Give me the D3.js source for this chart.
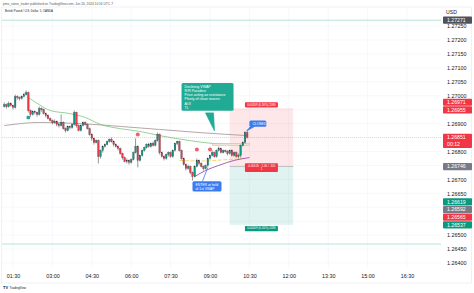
<!DOCTYPE html>
<html lang="en">
<head>
<meta charset="UTF-8">
<title>GBPUSD 5 OANDA</title>
<style>
  html, body { margin: 0; padding: 0; background: #fff; }
  svg { display: block; font-family: "Liberation Sans", Arial, sans-serif; }
  .axis path, .axis line { display: none; }
  .axis text { fill: #131722; font-size: 5.4px; }
</style>
</head>
<body>
<svg id="chart" width="474" height="293"></svg>
<script src="https://d3js.org/d3.v7.min.js"></script>
<script>
// ---- data ----
const startTime = "01:10";           // first 5 min bar
const barMinutes = 5;
// [open, high, low, close]
const candles = [
  [1.26961,1.26976,1.26958,1.26968],[1.26968,1.26972,1.26954,1.26961],[1.26961,1.26979,1.26958,1.26972],
  [1.26972,1.26976,1.26961,1.26965],[1.26965,1.26968,1.26951,1.26958],[1.26958,1.27004,1.26954,1.26997],
  [1.26997,1.27001,1.26986,1.26994],[1.26994,1.26997,1.26983,1.26990],[1.26990,1.27001,1.26986,1.26997],
  [1.26997,1.27011,1.26994,1.27004],[1.27004,1.27019,1.27001,1.27011],[1.27011,1.27015,1.26940,1.26947],
  [1.26947,1.26951,1.26925,1.26933],[1.26933,1.26947,1.26929,1.26943],[1.26943,1.26947,1.26933,1.26940],
  [1.26940,1.26943,1.26925,1.26933],[1.26933,1.26961,1.26929,1.26954],[1.26954,1.26958,1.26943,1.26951],
  [1.26951,1.26954,1.26933,1.26936],[1.26936,1.26940,1.26922,1.26929],[1.26929,1.26933,1.26915,1.26918],
  [1.26918,1.26922,1.26908,1.26911],[1.26911,1.26915,1.26897,1.26904],[1.26904,1.26915,1.26900,1.26908],
  [1.26908,1.26911,1.26890,1.26897],[1.26897,1.26904,1.26886,1.26893],[1.26893,1.26933,1.26890,1.26904],
  [1.26904,1.26908,1.26879,1.26882],[1.26882,1.26886,1.26868,1.26875],[1.26875,1.26893,1.26872,1.26890],
  [1.26890,1.26893,1.26879,1.26886],[1.26886,1.26900,1.26882,1.26897],[1.26897,1.26947,1.26893,1.26940],
  [1.26940,1.26943,1.26886,1.26893],[1.26893,1.26897,1.26872,1.26875],[1.26875,1.26897,1.26872,1.26893],
  [1.26893,1.26908,1.26890,1.26904],[1.26904,1.26908,1.26893,1.26897],[1.26897,1.26900,1.26879,1.26882],
  [1.26882,1.26886,1.26857,1.26861],[1.26861,1.26865,1.26839,1.26847],[1.26847,1.26850,1.26825,1.26832],
  [1.26832,1.26843,1.26829,1.26839],[1.26839,1.26843,1.26757,1.26782],[1.26782,1.26807,1.26775,1.26804],
  [1.26804,1.26822,1.26796,1.26818],[1.26818,1.26829,1.26814,1.26825],[1.26825,1.26839,1.26822,1.26836],
  [1.26836,1.26847,1.26832,1.26843],[1.26843,1.26850,1.26832,1.26836],[1.26836,1.26839,1.26818,1.26825],
  [1.26825,1.26829,1.26814,1.26818],[1.26818,1.26822,1.26804,1.26811],[1.26811,1.26814,1.26789,1.26793],
  [1.26793,1.26796,1.26771,1.26778],[1.26778,1.26782,1.26761,1.26764],[1.26764,1.26775,1.26757,1.26768],
  [1.26768,1.26771,1.26753,1.26761],[1.26761,1.26775,1.26757,1.26771],[1.26771,1.26800,1.26768,1.26796],
  [1.26796,1.26847,1.26793,1.26818],[1.26818,1.26822,1.26743,1.26768],[1.26768,1.26789,1.26764,1.26786],
  [1.26786,1.26807,1.26782,1.26804],[1.26804,1.26818,1.26800,1.26814],[1.26814,1.26829,1.26811,1.26825],
  [1.26825,1.26832,1.26814,1.26818],[1.26818,1.26832,1.26814,1.26829],[1.26829,1.26836,1.26818,1.26822],
  [1.26822,1.26843,1.26818,1.26839],[1.26839,1.26868,1.26836,1.26861],[1.26861,1.26865,1.26789,1.26796],
  [1.26796,1.26800,1.26778,1.26782],[1.26782,1.26786,1.26768,1.26775],[1.26775,1.26793,1.26771,1.26789],
  [1.26789,1.26800,1.26782,1.26796],[1.26796,1.26800,1.26778,1.26782],[1.26782,1.26807,1.26778,1.26804],
  [1.26804,1.26832,1.26800,1.26829],[1.26829,1.26839,1.26822,1.26836],[1.26836,1.26839,1.26800,1.26804],
  [1.26804,1.26807,1.26771,1.26775],[1.26775,1.26778,1.26750,1.26753],[1.26753,1.26757,1.26732,1.26739],
  [1.26739,1.26753,1.26735,1.26746],[1.26746,1.26750,1.26718,1.26725],[1.26725,1.26728,1.26696,1.26710],
  [1.26710,1.26750,1.26707,1.26746],[1.26746,1.26775,1.26743,1.26768],[1.26768,1.26771,1.26750,1.26757],
  [1.26757,1.26761,1.26743,1.26746],[1.26746,1.26750,1.26732,1.26739],[1.26739,1.26753,1.26735,1.26750],
  [1.26750,1.26778,1.26746,1.26775],[1.26775,1.26789,1.26771,1.26786],[1.26786,1.26804,1.26782,1.26796],
  [1.26796,1.26800,1.26778,1.26782],[1.26782,1.26807,1.26778,1.26804],[1.26804,1.26818,1.26800,1.26811],
  [1.26811,1.26814,1.26793,1.26796],[1.26796,1.26807,1.26793,1.26804],[1.26804,1.26807,1.26796,1.26800],
  [1.26800,1.26804,1.26786,1.26793],[1.26793,1.26807,1.26789,1.26804],[1.26804,1.26807,1.26782,1.26786],
  [1.26786,1.26800,1.26782,1.26796],[1.26796,1.26800,1.26778,1.26782],[1.26782,1.26793,1.26775,1.26786],
  [1.26786,1.26825,1.26778,1.26822],[1.26822,1.26836,1.26818,1.26832],[1.26832,1.26872,1.26829,1.26868],
  [1.26868,1.26879,1.26847,1.26851]
];

const timeTicks = ["01:30","03:00","04:30","06:00","07:30","09:00","10:30","12:00","13:30","15:00","16:30"];
const priceTicks = [1.2725,1.2720,1.2715,1.2710,1.2705,1.2700,1.2695,1.2690,1.2685,1.2680,1.2675,
                    1.2670,1.2665,1.2660,1.2655,1.2650,1.2645,1.2640];

// indicator lines [time, price]
const slowLine = [["01:10",1.26893],["02:30",1.26904],["04:05",1.26900],["05:35",1.26890],
                  ["07:05",1.26879],["08:35",1.26868],["10:25",1.26857]];
const emaLine = [["02:05",1.26994],["02:30",1.26968],["02:55",1.26947],["03:40",1.26936],
                 ["04:15",1.26922],["04:50",1.26897],["05:35",1.26882],["06:20",1.26872],
                 ["07:05",1.26857],["08:15",1.26839],["09:05",1.26829],["10:10",1.26825]];
const vwapLine = [["08:25",1.26710],["08:50",1.26732],["09:20",1.26750],["09:55",1.26768],["10:30",1.26778]];
const yellowLine = [["07:50",1.26768],["08:40",1.26766],["09:30",1.26770],["10:20",1.26775]];
const band = { from: "09:05", to: "10:30", top: 1.26829, bottom: 1.26822 };

const topLevel = 1.27271, bottomLevel = 1.26468, lastPrice = 1.26851;

// short position tool
const position = { from: "09:45", to: "12:10", entry: 1.26746, stop: 1.26955, target: 1.26537 };

const greenMarks = [["02:05",1.26922]];
const redMarks = [["06:15",1.26861],["08:30",1.26807],["09:00",1.26807]];

const badges = [
  { v: 1.27271, c: "#50535e" },
  { v: 1.26971, c: "#f23645" },
  { v: 1.26955, c: "#f23645" },
  { v: 1.26851, c: "#f23645", sub: "00:12" },
  { v: 1.26746, c: "#787b86" },
  { v: 1.26619, c: "#089981" },
  { v: 1.26592, c: "#787b86" },
  { v: 1.26565, c: "#f23645" },
  { v: 1.26537, c: "#089981" }
];

const noteLines = ["Declining VWAP", "R/R Paradise", "Price acting as resistance", "Plenty of clean moves", "AOI", "TL"];
const enterLines = ["ENTER at hold", "of 1st VWAP"];

// ---- scales ----
const svg = d3.select("#chart");
const plotRight = 441, plotTop = 7, plotBottom = 269;
const mins = t => { const p = t.split(":"); return +p[0] * 60 + +p[1]; };
const x = d3.scaleLinear().domain([90, 990]).range([13, 407]);
const y = d3.scaleLinear().domain([1.264, 1.272]).range([263, 40]);
const green = "#089981", red = "#f23645";

// header
svg.append("text").attr("x", 3).attr("y", 5).attr("font-size", 3.3).attr("fill", "#555")
  .attr("textLength", 110).attr("lengthAdjust", "spacingAndGlyphs")
  .text("pmo_stone_trader published on TradingView.com, Jun 20, 2024 10:16 UTC-7");

// frame
svg.append("rect").attr("x", 1.5).attr("y", plotTop).attr("width", 470).attr("height", 276)
  .attr("fill", "none").attr("stroke", "#e0e3eb").attr("stroke-width", 0.5);

// grid
const grid = svg.append("g").attr("stroke", "#f0f3fa").attr("stroke-width", 0.6);
grid.selectAll(".h").data(priceTicks).join("line")
  .attr("x1", 2).attr("x2", plotRight).attr("y1", d => y(d)).attr("y2", d => y(d));
grid.selectAll(".v").data(timeTicks).join("line")
  .attr("x1", d => x(mins(d))).attr("x2", d => x(mins(d))).attr("y1", plotTop).attr("y2", plotBottom);

svg.append("text").attr("x", 5).attr("y", 12).attr("font-size", 3.2).attr("fill", "#131722")
  .attr("textLength", 48).attr("lengthAdjust", "spacingAndGlyphs")
  .text("British Pound / U.S. Dollar, 5, OANDA");

// position zones
const px0 = x(mins(position.from)), px1 = x(mins(position.to));
svg.append("rect").attr("x", px0).attr("width", px1 - px0)
  .attr("y", y(position.stop)).attr("height", y(position.entry) - y(position.stop))
  .attr("fill", "rgba(242,54,69,0.12)");
svg.append("rect").attr("x", px0).attr("width", px1 - px0)
  .attr("y", y(position.entry)).attr("height", y(position.target) - y(position.entry))
  .attr("fill", "rgba(8,153,129,0.12)");
svg.append("line").attr("x1", px0).attr("x2", px1).attr("y1", y(position.entry)).attr("y2", y(position.entry))
  .attr("stroke", "#b2b5be").attr("stroke-width", 0.8);

// horizontal levels
[topLevel, bottomLevel].forEach(v => {
  svg.append("line").attr("x1", 2).attr("x2", plotRight).attr("y1", y(v)).attr("y2", y(v))
    .attr("stroke", "#a8dccf").attr("stroke-width", 0.8);
});
svg.append("line").attr("x1", 2).attr("x2", plotRight).attr("y1", y(lastPrice)).attr("y2", y(lastPrice))
  .attr("stroke", red).attr("stroke-width", 0.5).attr("stroke-dasharray", "1,1").attr("opacity", 0.5);

// indicators
const line = d3.line().x(d => x(mins(d[0]))).y(d => y(d[1])).curve(d3.curveMonotoneX);
svg.append("path").attr("d", line(slowLine)).attr("fill", "none").attr("stroke", "#a3918f").attr("stroke-width", 0.8);
svg.append("path").attr("d", line(emaLine)).attr("fill", "none").attr("stroke", "#6abf69").attr("stroke-width", 0.7);
svg.append("path").attr("d", line(yellowLine)).attr("fill", "none").attr("stroke", "#f7c948")
  .attr("stroke-width", 0.8).attr("stroke-dasharray", "4,1.5");
svg.append("path").attr("d", line(vwapLine)).attr("fill", "none").attr("stroke", "#9c4fb0").attr("stroke-width", 0.9);
svg.append("rect").attr("x", x(mins(band.from))).attr("width", x(mins(band.to)) - x(mins(band.from)))
  .attr("y", y(band.top)).attr("height", y(band.bottom) - y(band.top))
  .attr("fill", "#f1e2d6").attr("stroke", "#cfa58c").attr("stroke-width", 0.4);

// candles (dark wicks, as on the chart)
const t0 = mins(startTime);
const cg = svg.append("g");
const bars = cg.selectAll("g").data(candles).join("g");
bars.append("line")
  .attr("x1", (d, i) => x(t0 + i * barMinutes)).attr("x2", (d, i) => x(t0 + i * barMinutes))
  .attr("y1", d => y(d[1])).attr("y2", d => y(d[2]))
  .attr("stroke", "#2a2e39").attr("stroke-width", 0.5);
bars.append("rect")
  .attr("x", (d, i) => x(t0 + i * barMinutes) - 0.8).attr("width", 1.6)
  .attr("y", d => y(Math.max(d[0], d[3])))
  .attr("height", d => Math.max(0.5, Math.abs(y(d[0]) - y(d[3]))))
  .attr("fill", d => d[3] >= d[0] ? green : red)
  .attr("stroke", "#2a2e39").attr("stroke-width", 0.25);

// markers
svg.selectAll(".gm").data(greenMarks).join("rect")
  .attr("x", d => x(mins(d[0])) - 1.8).attr("y", d => y(d[1]) - 1.8).attr("width", 3.6).attr("height", 3.6)
  .attr("rx", 1).attr("fill", "#26a69a");
svg.selectAll(".rm").data(redMarks).join("circle")
  .attr("cx", d => x(mins(d[0]))).attr("cy", d => y(d[1])).attr("r", 2).attr("fill", "#f0606a");

// position labels
function tag(cx, cy, lines, color) {
  const w = 33, h = lines.length * 3.6 + 1.6;
  const g = svg.append("g");
  g.append("rect").attr("x", cx - w / 2).attr("y", cy - h / 2).attr("width", w).attr("height", h)
    .attr("rx", 0.8).attr("fill", color);
  lines.forEach((t, i) => g.append("text").attr("x", cx).attr("y", cy - h / 2 + 3.4 + i * 3.6)
    .attr("text-anchor", "middle").attr("font-size", 2.9).attr("fill", "#fff").text(t));
}
const pcx = (px0 + px1) / 2;
tag(pcx, y(position.stop) - 3.5, ["0.00209 (0.16%) 2090"], red);
tag(pcx, y(position.entry) + 1, ["-0.00105 · 1.00 / -105", "1"], red);
tag(pcx, y(position.target) + 3.8, ["0.00209 (0.16%) 2090"], green);

// callouts
function callout(bx, by, w, lines, color, tail, fs) {
  const h = lines.length * (fs + 0.7) + 2;
  const g = svg.append("g");
  g.append("path").attr("d", tail).attr("fill", color).attr("stroke", color).attr("stroke-width", 0.8);
  g.append("rect").attr("x", bx).attr("y", by).attr("width", w).attr("height", h).attr("rx", 1.5).attr("fill", color);
  lines.forEach((t, i) => g.append("text").attr("x", bx + 3).attr("y", by + 1 + fs + i * (fs + 0.7))
    .attr("font-size", fs).attr("fill", "#fff").text(t));
}
const nx = x(mins("07:55")), ny = y(1.27046);
callout(nx, ny, 52, noteLines, "#22ab94",
  `M${nx + 24},${ny + 30} L${x(mins("09:10"))},${y(1.26875)} L${nx + 32},${ny + 30} Z`, 3.6);
const ex = x(mins("08:20")), ey = y(1.26693);
callout(ex, ey, 29, enterLines, "#3b7bf0",
  `M${ex + 10},${ey} L${x(mins("08:55"))},${y(1.26743)}`, 3.4);
const clx = x(mins("10:30")), cly = y(1.26911);
callout(clx, cly, 17, ["CLOSED"], "#3b7bf0",
  `M${clx + 1},${cly + 6} L${x(mins("10:25"))},${y(1.26875)} L${clx + 5},${cly + 6} Z`, 3.4);

// axes
const xAxis = d3.axisBottom(x).tickValues(timeTicks.map(mins)).tickSize(0)
  .tickFormat(m => timeTicks.find(t => mins(t) === m));
svg.append("g").attr("class", "axis").attr("transform", `translate(0,${plotBottom + 2})`).call(xAxis);

// price ticks hidden where a badge sits, as the platform does
const bh = 7.2;
const placed = badges.map(b => ({ ...b, yy: y(b.v) })).sort((a, b) => a.yy - b.yy);
for (let k = 0; k < 30; k++) {
  for (let i = 1; i < placed.length; i++) {
    const need = placed[i - 1].sub ? bh * 2 : bh + 0.4;
    const gap = placed[i].yy - placed[i - 1].yy;
    if (gap < need) { const d = (need - gap) / 2; placed[i - 1].yy -= d; placed[i].yy += d; }
  }
}
const freeTicks = priceTicks.filter(p => placed.every(b => {
  const top = b.yy - bh / 2 - 0.5, bottom = b.yy + (b.sub ? bh * 1.5 : bh / 2) + 0.5;
  return y(p) < top || y(p) > bottom;
}));
const yAxis = d3.axisRight(y).tickValues(freeTicks).tickSize(0).tickFormat(d3.format(".5f"));
svg.append("g").attr("class", "axis").attr("transform", `translate(${plotRight + 3},0)`).call(yAxis);
svg.append("text").attr("x", 446).attr("y", 14).attr("font-size", 5.2).attr("fill", "#131722").text("USD");

const bg = svg.append("g");
placed.forEach(b => {
  const h = b.sub ? bh * 2 : bh;
  bg.append("rect").attr("x", 443).attr("y", b.yy - bh / 2).attr("width", 29).attr("height", h)
    .attr("rx", 0.8).attr("fill", b.c);
  bg.append("text").attr("x", 447).attr("y", b.yy).attr("dy", "0.35em").attr("font-size", 5.2)
    .attr("fill", "#fff").text(d3.format(".5f")(b.v));
  if (b.sub) bg.append("text").attr("x", 447).attr("y", b.yy + bh).attr("dy", "0.35em").attr("font-size", 5.2)
    .attr("fill", "#fff").text(b.sub);
});

// logo
svg.append("text").attr("x", 3).attr("y", 289).attr("font-size", 4).attr("font-weight", "bold")
  .attr("fill", "#131722").text("TV");
svg.append("text").attr("x", 9.5).attr("y", 288.6).attr("font-size", 3).attr("fill", "#131722").text("TradingView");
</script>
</body>
</html>
